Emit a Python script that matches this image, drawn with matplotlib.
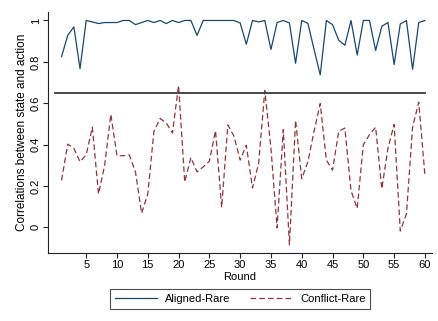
import numpy as np
import matplotlib
matplotlib.use("Agg")
import matplotlib.pyplot as plt

plt.rcParams['font.family'] = ['Liberation Sans', 'DejaVu Sans']

rounds = list(range(1, 61))

aligned_rare = [0.825, 0.928, 0.969, 0.767, 1.0, 0.993, 0.985, 0.99, 0.99, 0.99,
                1.0, 1.0, 0.98, 0.99, 1.0, 0.99, 1.0, 0.985, 1.0, 0.99,
                1.0, 1.0, 0.928, 1.0, 1.0, 1.0, 1.0, 1.0, 1.0, 0.988,
                0.885, 1.0, 0.993, 1.0, 0.86, 0.99, 1.0, 0.988, 0.793, 1.0,
                0.986, 0.86, 0.737, 1.0, 0.98, 0.905, 0.88, 1.0, 0.833, 1.0,
                1.0, 0.855, 0.972, 0.99, 0.787, 0.983, 1.0, 0.764, 0.99, 1.0]

conflict_rare = [0.227, 0.402, 0.382, 0.317, 0.35, 0.484, 0.161, 0.30, 0.546, 0.346,
                 0.346, 0.35, 0.268, 0.068, 0.161, 0.464, 0.526, 0.505, 0.456, 0.685,
                 0.219, 0.337, 0.268, 0.292, 0.32, 0.467, 0.096, 0.495, 0.44, 0.325,
                 0.397, 0.19, 0.309, 0.661, 0.382, -0.003, 0.472, -0.085, 0.517, 0.235,
                 0.317, 0.464, 0.598, 0.325, 0.276, 0.464, 0.48, 0.177, 0.091, 0.399,
                 0.448, 0.484, 0.186, 0.382, 0.497, -0.018, 0.065, 0.485, 0.605, 0.251]

threshold = 0.65

fig = plt.figure(figsize=(4.38, 3.21), dpi=100)
ax = fig.add_axes([0.1096, 0.212, 0.876, 0.75])

ax.plot(rounds, aligned_rare, color='#1a476f', lw=0.9, label='Aligned-Rare')
ax.plot(rounds, conflict_rare, color='#90353b', lw=0.9, dashes=(4.5, 2.5),
        label='Conflict-Rare')
ax.plot([0, 60], [threshold, threshold], color='#3a3a3a', lw=1.3)

ax.set_xlim(-1.2, 61.1)
ax.set_ylim(-0.124, 1.04)
ax.set_xticks(range(5, 61, 5))
ax.set_yticks([0, 0.2, 0.4, 0.6, 0.8, 1.0])
ax.set_yticklabels(['0', '0.2', '0.4', '0.6', '0.8', '1'], rotation=90, va='center')

ax.spines['top'].set_visible(False)
ax.spines['right'].set_visible(False)
for s in ['left', 'bottom']:
    ax.spines[s].set_linewidth(0.8)
    ax.spines[s].set_color('#222222')
ax.tick_params(direction='out', length=3.5, width=0.8, labelsize=8, pad=1.5, color='#222222')

ax.set_xlabel('Round', fontsize=8, labelpad=1.5)
ax.set_ylabel('Correlations between state and action', fontsize=8.5, labelpad=2)

leg = fig.legend(loc='center', bbox_to_anchor=(0.548, 0.069), ncol=2, fontsize=8,
                 frameon=True, fancybox=False, edgecolor='#222222', handlelength=3.8,
                 columnspacing=1.8, borderpad=0.45, handletextpad=0.7)
leg.get_frame().set_linewidth(0.8)

fig.savefig('out.png', dpi=100, facecolor='white')
